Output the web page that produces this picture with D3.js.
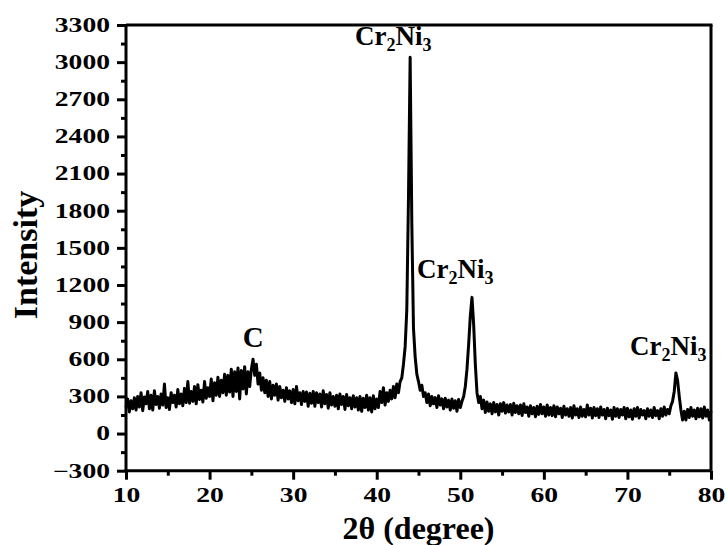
<!DOCTYPE html>
<html><head><meta charset="utf-8">
<script src="https://cdn.jsdelivr.net/npm/d3@7"></script>
<style>
html,body{margin:0;padding:0;background:#fff;}
text{font-family:"Liberation Serif","Times New Roman",serif;font-weight:bold;fill:#000;}
</style></head>
<body><svg id="chart" width="727" height="545"></svg>
<script>
// 2θ sampling grid (degrees)
const twoThetaStart = 10;
const twoThetaStep = 0.2;
// Intensity, 5 samples per degree (x.0 x.2 x.4 x.6 x.8)
const intensity = [
  210,280,175,265,200, 290,190,300,215,330, 185,295,240,340,200, 310,190,345,235,300,
  205,320,230,400,210, 290,195,330,250,310, 215,355,240,320,225, 365,250,420,245,340,
  260,380,240,395,275, 350,255,420,285,370, 300,440,265,410,310, 455,300,430,330,480,
  310,470,335,520,300, 500,340,530,280,510, 360,540,320,500,380, 520,600,470,560,400,
  490,350,450,330,430, 300,420,280,390,310, 400,270,380,290,350, 260,370,280,345,250,
  355,240,380,265,330, 235,340,260,335,220, 325,245,340,220,330, 250,320,215,345,240,
  315,205,330,230,300, 220,310,200,320,235, 300,195,315,225,290, 200,305,215,290,190,
  300,180,285,210,310, 190,290,175,305,200, 280,210,340,250,370, 230,330,260,350,280,
  380,290,400,330,420, 450,560,700,1000,1900, 3040,1700,850,620,480, 420,350,390,300,330,
  250,320,225,300,240, 290,210,305,230,280, 200,285,215,270,190, 280,205,265,180,275,
  210,260,300,380,520, 720,950,1100,880,560, 330,250,300,200,270, 170,255,180,240,160,
  250,175,235,150,240, 180,250,165,230,175, 235,150,245,170,225, 160,230,145,240,170,
  215,140,225,160,210, 135,220,155,235,160, 215,140,230,150,210, 145,225,135,215,160,
  205,130,220,150,200, 140,210,125,225,150, 200,130,215,140,195, 135,230,150,205,125,
  210,145,200,130,215, 150,195,120,205,145, 190,115,210,140,200, 130,195,150,210,120,
  205,135,190,115,200, 140,210,125,195,150, 185,120,200,140,190, 130,210,145,185,120,
  200,140,215,150,195, 160,225,260,340,490, 430,300,190,110,180, 110,195,130,210,140,
  190,120,205,135,200, 125,215,140,190,110, 180
];
const xTicks = [10,20,30,40,50,60,70,80];
const xMinorTicks = [15,25,35,45,55,65,75];
const yTicks = [-300,0,300,600,900,1200,1500,1800,2100,2400,2700,3000,3300];
const yMinorTicks = [-150,150,450,750,1050,1350,1650,1950,2250,2550,2850,3150];
const peakNames = ["C","Cr2Ni3","Cr2Ni3","Cr2Ni3"];
const peakLabelX = [23.96, 37.4, 44.83, 70.3];
const peakLabelY = [701, 3138, 1254, 634];

const svg = d3.select("#chart");
const L = 126, R = 711, T = 25, B = 470.7;
const x = d3.scaleLinear().domain([10,80]).range([L,R]);
const y = d3.scaleLinear().domain([-300,3300]).range([B,T]);

const data = intensity.map((v,i)=>({t: twoThetaStart + i*twoThetaStep, v}));

// curve
svg.append("path").datum(data)
  .attr("fill","none").attr("stroke","#000").attr("stroke-width",3)
  .attr("stroke-linejoin","round")
  .attr("d", d3.line().x(d=>x(d.t)).y(d=>y(d.v)));

// frame top / right
svg.append("line").attr("x1",L).attr("x2",R+1.5).attr("y1",T).attr("y2",T).attr("stroke","#000").attr("stroke-width",3);
svg.append("line").attr("x1",R).attr("x2",R).attr("y1",T).attr("y2",B).attr("stroke","#000").attr("stroke-width",3);

// axes
const yAx = svg.append("g").attr("transform",`translate(${L},0)`)
  .call(d3.axisLeft(y).tickValues(yTicks).tickSize(9).tickPadding(7).tickFormat(d3.format("d")));
const yMin = svg.append("g").attr("transform",`translate(${L},0)`)
  .call(d3.axisLeft(y).tickValues(yMinorTicks).tickSize(5).tickFormat(""));
const xAx = svg.append("g").attr("transform",`translate(0,${B})`)
  .call(d3.axisBottom(x).tickValues(xTicks).tickSize(9).tickPadding(8).tickFormat(d3.format("d")));
const xMin = svg.append("g").attr("transform",`translate(0,${B})`)
  .call(d3.axisBottom(x).tickValues(xMinorTicks).tickSize(5).tickFormat(""));
[yAx,yMin,xAx,xMin].forEach(g=>{
  g.select(".domain").attr("stroke","#000").attr("stroke-width",3);
  g.selectAll(".tick line").attr("stroke","#000").attr("stroke-width",3);
});
yMin.select(".domain").remove(); xMin.select(".domain").remove();
yAx.select(".domain").attr("d",`M0,${T}V${B+1.5}`);
xAx.select(".domain").attr("d",`M${L-1.5},0H${R}`);

yAx.selectAll(".tick text").attr("font-size",20).attr("font-family","Liberation Serif")
  .attr("font-weight","bold").attr("fill","#000")
  .each(function(){ const t=d3.select(this); const xx=+t.attr("x"); t.attr("x",null)
     .attr("transform",`translate(${xx},0) scale(1.38,1)`); });
xAx.selectAll(".tick text").attr("font-size",20).attr("font-family","Liberation Serif")
  .attr("font-weight","bold").attr("fill","#000")
  .each(function(){ const t=d3.select(this); const yy=+t.attr("y"); t.attr("y",null)
     .attr("transform",`translate(0,${yy}) scale(1.38,1)`); });

// axis titles
svg.append("text").attr("transform",`translate(37,255) rotate(-90)`)
  .attr("text-anchor","middle").attr("font-size",34).text("Intensity");
svg.append("text").attr("x",(L+R)/2).attr("y",539)
  .attr("text-anchor","middle").attr("font-size",32).text("2θ (degree)");

// peak labels
peakNames.forEach((name,i)=>{
  const t = svg.append("text").attr("x",x(peakLabelX[i])).attr("y",y(peakLabelY[i]));
  if(name==="C"){ t.attr("font-size",29).text("C"); return; }
  t.attr("font-size",27);
  t.append("tspan").text("Cr");
  t.append("tspan").attr("font-size",18).attr("dy",6).text("2");
  t.append("tspan").attr("dy",-6).text("Ni");
  t.append("tspan").attr("font-size",18).attr("dy",6).text("3");
});
</script></body></html>
